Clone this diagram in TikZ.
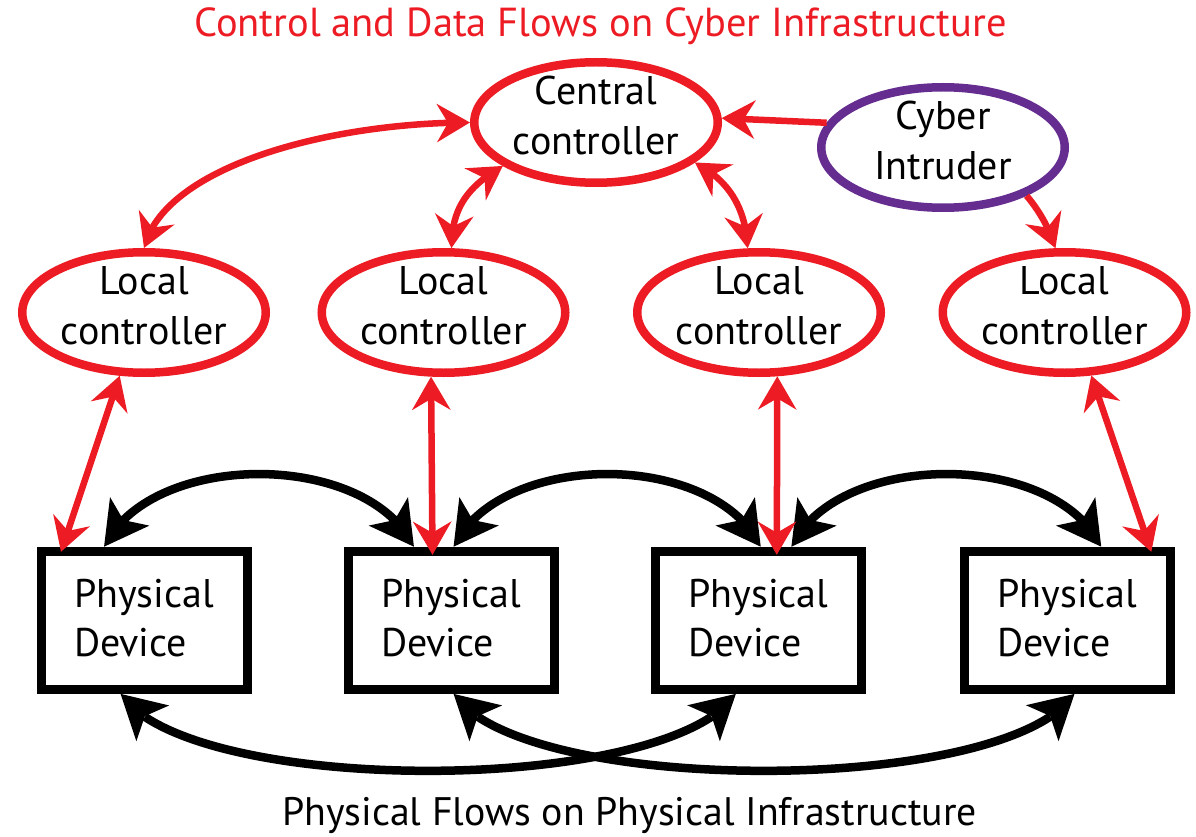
\documentclass[tikz,border=0pt]{standalone}
\usepackage{fontspec}
\setmainfont{PT Sans}
\usetikzlibrary{arrows.meta,bending,shapes.geometric,calc}
\definecolor{cred}{HTML}{ED1C24}
\definecolor{cpurple}{HTML}{662D91}
\tikzset{
  redtip/.tip={Stealth[length=33pt,width=38pt,inset=11pt]},
  blktip/.tip={Stealth[length=43pt,width=47pt,inset=10pt]},
}
\begin{document}
\begin{tikzpicture}[x=1pt,y=-1pt,
  ctrl/.style={ellipse, draw=cred, line width=8.5pt, inner sep=0pt,
    minimum width=243.5pt, minimum height=120.5pt, align=center,
    text height=64pt, text depth=0pt, font=\fontsize{40}{50}\selectfont},
  intruder/.style={ctrl, draw=cpurple},
  device/.style={rectangle, draw=black, line width=9pt, inner sep=0pt,
    minimum width=206pt, minimum height=138pt, align=left,
    text height=73pt, text depth=0pt, font=\fontsize{40}{49}\selectfont},
  redboth/.style={draw=cred, line width=6.5pt, arrows={redtip-redtip}},
  redone/.style={draw=cred, line width=6.5pt, arrows={-redtip}},
  blkboth/.style={draw=black, line width=8.5pt, arrows={blktip-blktip}},
]
\fill[white] (0,0) rectangle (1196,837);
\useasboundingbox (0,0) rectangle (1196,837);

\node[font=\fontsize{40.5}{44}\selectfont, text=cred, anchor=base] (title) at (600.5,37) {Control and Data Flows on Cyber Infrastructure};
\node[font=\fontsize{39.8}{44}\selectfont, anchor=base] (foot) at (629.5,825) {Physical Flows on Physical Infrastructure};

\node[ctrl] (cc) at (596,122.5) {Central\\controller};
\node[intruder] (ci) at (943,147.5) {Cyber\\Intruder};
\node[ctrl] (lc1) at (144,312.5) {Local\\controller};
\node[ctrl] (lc2) at (443.5,312.5) {Local\\controller};
\node[ctrl] (lc3) at (759,312.5) {Local\\controller};
\node[ctrl] (lc4) at (1064.5,312.5) {Local\\controller};

\node[device] (pd1) at (144,620.3) {Physical\\Device};
\node[device] (pd2) at (451,620.3) {Physical\\Device};
\node[device] (pd3) at (758.3,620.3) {Physical\\Device};
\node[device] (pd4) at (1067.3,620.3) {Physical\\Device};

% physical flows
\draw[blkboth] ([xshift=-40pt]pd1.north) .. controls +(47,-97) and +(-47,-97) .. ([xshift=-37pt]pd2.north);
\draw[blkboth] ([xshift=2.5pt]pd2.north) .. controls +(47,-97) and +(-47,-97) .. ([xshift=2.5pt]pd3.north);
\draw[blkboth] ([xshift=33pt]pd3.north) .. controls +(47,-97) and +(-47,-97) .. ([xshift=34pt]pd4.north);
\draw[blkboth] ([xshift=-23.5pt]pd1.south) .. controls +(68.4,102.7) and +(-69.4,102.7) .. ([xshift=-22.4pt]pd3.south);
\draw[blkboth] ([xshift=2.5pt]pd2.south) .. controls +(68.4,102.7) and +(-69.4,102.7) .. ([xshift=7.3pt]pd4.south);

% cyber flows
\draw[redboth] (cc.west) .. controls +(-140,0) and +(20,-82) .. (lc1.north);
\draw[redboth] (cc.205) .. controls +(-30,18) and +(0,-45) .. (lc2.83);
\draw[redboth] (cc.338) .. controls +(30,16) and +(-2,-45) .. (lc3.100);
\draw[redone] (ci.168) -- (cc.2);
\draw[redone] (ci.330) .. controls +(12,14) and +(-6,-20) .. (lc4.98);

\draw[redboth] (lc1.249) -- ([xshift=-83pt,yshift=-5pt]pd1.north);
\draw[redboth] (lc2.259) -- ([xshift=-18.5pt,yshift=-8pt]pd2.north);
\draw[redboth] (lc3.286) -- ([xshift=18.5pt,yshift=-8pt]pd3.north);
\draw[redboth] (lc4.293) -- ([xshift=84pt,yshift=-5pt]pd4.north);
\end{tikzpicture}
\end{document}
